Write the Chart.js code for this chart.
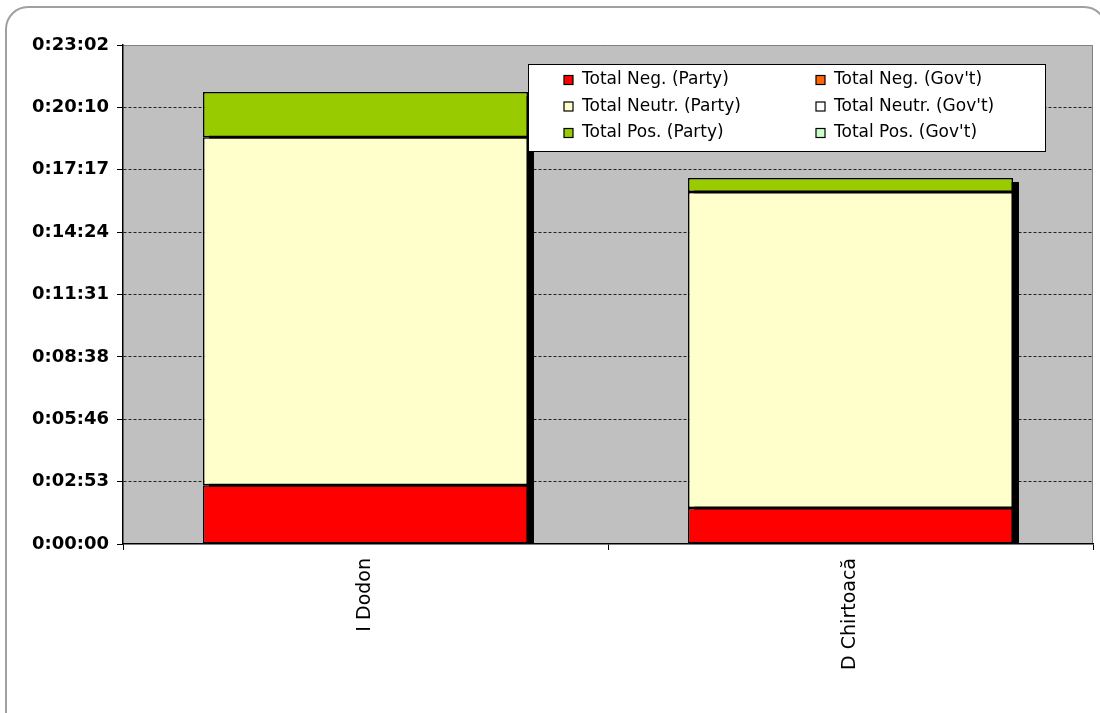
<!DOCTYPE html>
<html>
<head>
<meta charset="utf-8">
<script src="https://cdn.jsdelivr.net/npm/chart.js@4/dist/chart.umd.min.js"></script>
<style>
  html, body { margin: 0; padding: 0; background: #fff; }
  #wrap { width: 1100px; height: 713px; }
</style>
</head>
<body>
<div id="wrap"><canvas id="myChart" width="1100" height="713"></canvas></div>
<script>
// values are in seconds
var candidates = ['I Dodon', 'D Chirtoacă']
var negParty = [163, 100]
var neutrParty = [964, 875]
var posParty = [125, 39]
var negGov = [0, 0]
var neutrGov = [0, 0]
var posGov = [0, 0]
var tickLabels = ['0:00:00', '0:02:53', '0:05:46', '0:08:38', '0:11:31', '0:14:24', '0:17:17', '0:20:10', '0:23:02']
var tickStep = 172.8

// frame, plot background and bar shadows
var backdrop = {
  id: 'backdrop',
  beforeDraw: function (chart) {
    var ctx = chart.ctx
    var a = chart.chartArea
    ctx.save()
    ctx.fillStyle = '#fff'
    ctx.fillRect(0, 0, chart.width, chart.height)
    ctx.strokeStyle = '#a0a0a0'
    ctx.lineWidth = 2
    ctx.beginPath()
    ctx.roundRect(6, 7, 1100, 740, 22)
    ctx.stroke()
    ctx.fillStyle = '#c0c0c0'
    ctx.fillRect(a.left, a.top, a.right - a.left, a.bottom - a.top)
    ctx.strokeStyle = '#808080'
    ctx.lineWidth = 1
    ctx.beginPath()
    ctx.moveTo(a.left, a.top + 0.5)
    ctx.lineTo(a.right - 0.5, a.top + 0.5)
    ctx.lineTo(a.right - 0.5, a.bottom)
    ctx.stroke()
    ctx.restore()
  },
  beforeDatasetsDraw: function (chart) {
    var ctx = chart.ctx
    var y = chart.scales.y
    var meta = chart.getDatasetMeta(0)
    ctx.save()
    ctx.fillStyle = '#000'
    meta.data.forEach(function (bar, i) {
      var total = 0
      chart.data.datasets.forEach(function (ds) { total += ds.data[i] })
      var top = y.getPixelForValue(total)
      var half = bar.width / 2
      ctx.fillRect(bar.x - half + 6, top + 4, bar.width, y.bottom - top - 4)
    })
    ctx.restore()
  }
}

// two column legend box like the excel one
var boxLegend = {
  id: 'boxLegend',
  afterDraw: function (chart) {
    var ctx = chart.ctx
    var order = [0, 3, 1, 4, 2, 5]
    ctx.save()
    ctx.fillStyle = '#fff'
    ctx.fillRect(528, 64, 517, 87)
    ctx.strokeStyle = '#000'
    ctx.lineWidth = 1
    ctx.strokeRect(528.5, 64.5, 517, 87)
    ctx.font = '17px "DejaVu Sans"'
    ctx.textBaseline = 'middle'
    order.forEach(function (d, k) {
      var ds = chart.data.datasets[d]
      var col = k % 2, row = Math.floor(k / 2)
      var x = col ? 816 : 564
      var cy = 80 + row * 26.5
      ctx.fillStyle = ds.backgroundColor
      ctx.fillRect(x, cy - 4.5, 9, 9)
      ctx.strokeStyle = '#000'
      ctx.lineWidth = 1.2
      ctx.strokeRect(x, cy - 4.5, 9, 9)
      ctx.fillStyle = '#000'
      ctx.fillText(ds.label, x + 18, cy)
    })
    ctx.restore()
  }
}

function makeSet(label, data, color) {
  return {
    label: label,
    data: data,
    backgroundColor: color,
    borderColor: '#000',
    borderWidth: 1.5,
    borderSkipped: false,
    barPercentage: 1,
    categoryPercentage: 0.67
  }
}

var ctx = document.getElementById('myChart').getContext('2d')
var chart = new Chart(ctx, {
  type: 'bar',
  data: {
    labels: candidates,
    datasets: [
      makeSet('Total Neg. (Party)', negParty, '#ff0000'),
      makeSet('Total Neutr. (Party)', neutrParty, '#ffffcc'),
      makeSet('Total Pos. (Party)', posParty, '#99cc00'),
      makeSet("Total Neg. (Gov't)", negGov, '#ff6600'),
      makeSet("Total Neutr. (Gov't)", neutrGov, '#ffffff'),
      makeSet("Total Pos. (Gov't)", posGov, '#ccffcc')
    ]
  },
  options: {
    responsive: false,
    animation: false,
    layout: { padding: { left: 0, top: 45, right: 7, bottom: 0 } },
    plugins: {
      legend: { display: false },
      tooltip: { enabled: false }
    },
    scales: {
      x: {
        stacked: true,
        afterFit: function (s) { s.height = 169 },
        grid: { offset: true, drawOnChartArea: false, tickLength: 6, tickColor: '#000', tickWidth: 1 },
        border: { color: '#000', width: 1.5 },
        ticks: {
          color: '#000',
          padding: 8,
          maxRotation: 90,
          minRotation: 90,
          font: { family: 'DejaVu Sans', size: 19 }
        }
      },
      y: {
        stacked: true,
        min: 0,
        max: tickStep * 8,
        afterFit: function (s) { s.width = 123 },
        afterBuildTicks: function (s) {
          s.ticks = tickLabels.map(function (t, i) { return { value: i * tickStep } })
        },
        grid: {
          color: function (c) {
            return (c.index === 0 || c.index === tickLabels.length - 1) ? 'rgba(0,0,0,0)' : '#222'
          },
          lineWidth: 1,
          tickLength: 6,
          tickColor: '#000'
        },
        border: { color: '#000', width: 1.5, dash: [3, 2] },
        ticks: {
          color: '#000',
          padding: 8,
          font: { family: 'DejaVu Sans', size: 18, weight: 'bold' },
          callback: function (v, i) { return tickLabels[i] }
        }
      }
    }
  },
  plugins: [backdrop, boxLegend]
})
</script>
</body>
</html>
